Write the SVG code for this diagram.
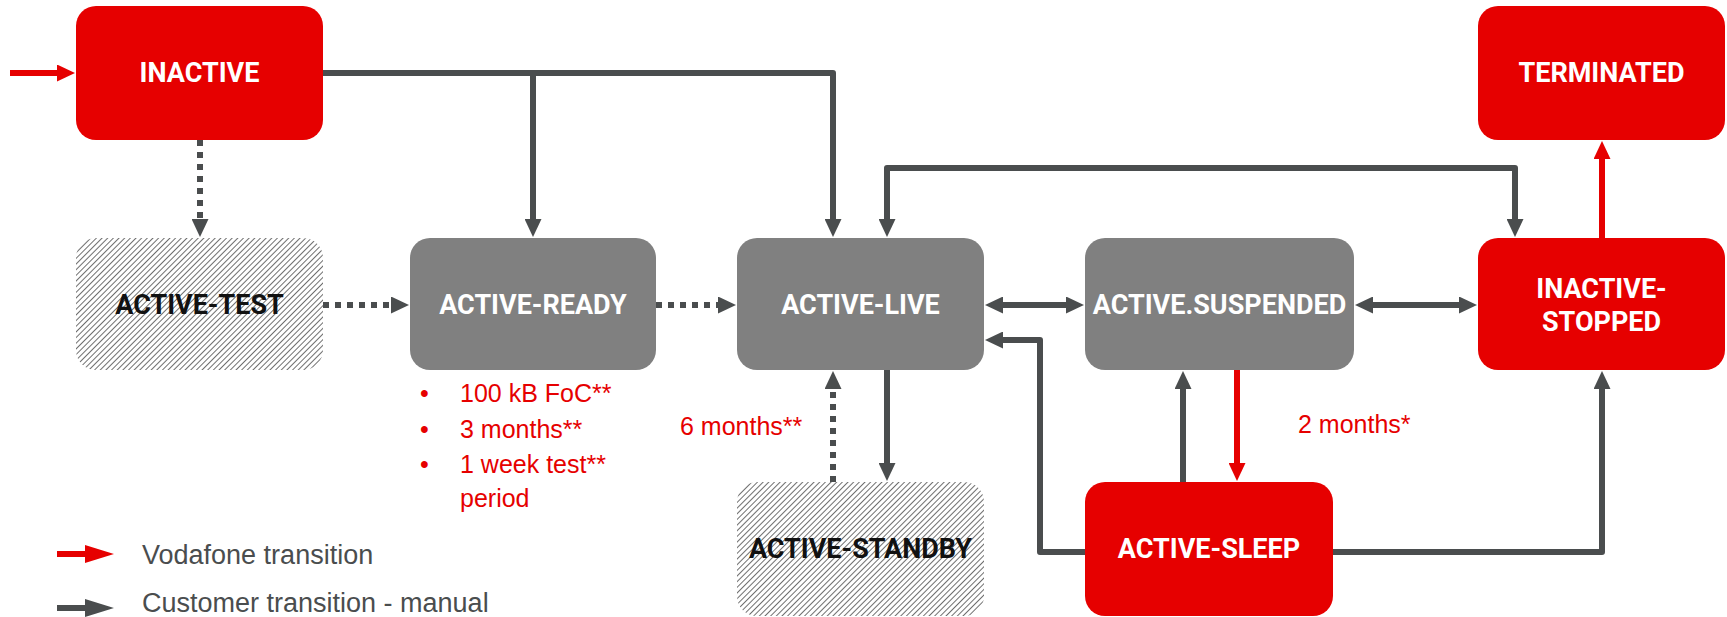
<svg xmlns="http://www.w3.org/2000/svg" width="1727" height="617" viewBox="0 0 1727 617">
<style>
.red{fill:#e60000}
.grey{fill:#808080}
.hatch{fill:url(#hatch)}
.lbl{font-family:Roboto,"Liberation Sans",sans-serif;font-weight:bold;font-size:27px;text-anchor:middle;fill:#ffffff}
.lbl.dark{fill:#111111}
.note{font-family:"Liberation Sans",Arial,sans-serif;font-size:25px;fill:#e60000}
.leg{font-family:"Liberation Sans",Arial,sans-serif;font-size:27px;fill:#4a4d4e}
.c{fill:none;stroke:#4a4d4e;stroke-width:6;stroke-linejoin:round}
.cr{fill:none;stroke:#e60000;stroke-width:6}
.dot{fill:none;stroke:#4a4d4e;stroke-width:6;stroke-dasharray:6 6}
</style>
<defs>
<pattern id="hatch" width="4" height="4" patternUnits="userSpaceOnUse" patternTransform="rotate(45)">
<rect width="4" height="4" fill="#ffffff"/>
<line x1="0" y1="0" x2="0" y2="4" stroke="#4a4a4a" stroke-width="1.6"/>
</pattern>
<marker id="ad" viewBox="0 0 18 17" refX="1" refY="8.5" markerWidth="18" markerHeight="17" markerUnits="userSpaceOnUse" orient="auto-start-reverse">
<path d="M0,0 L18,8.5 L0,17 z" fill="#4a4d4e"/>
</marker>
<marker id="ar" viewBox="0 0 18 17" refX="1" refY="8.5" markerWidth="18" markerHeight="17" markerUnits="userSpaceOnUse" orient="auto-start-reverse">
<path d="M0,0 L18,8.5 L0,17 z" fill="#e60000"/>
</marker>
<marker id="ld" viewBox="0 0 29 18" refX="1" refY="9" markerWidth="29" markerHeight="18" markerUnits="userSpaceOnUse" orient="auto">
<path d="M0,0 L29,9 L0,18 z" fill="#4a4d4e"/>
</marker>
<marker id="lr" viewBox="0 0 29 18" refX="1" refY="9" markerWidth="29" markerHeight="18" markerUnits="userSpaceOnUse" orient="auto">
<path d="M0,0 L29,9 L0,18 z" fill="#e60000"/>
</marker>
</defs>
<rect width="1727" height="617" fill="#ffffff"/>

<g id="connectors">
<path class="cr" d="M10,73 H58" marker-end="url(#ar)"/>
<path class="c" d="M323,73 H833 V220" marker-end="url(#ad)"/>
<path class="c" d="M533,73 V220" marker-end="url(#ad)"/>
<path class="dot" d="M200,140 V220" marker-end="url(#ad)"/>
<path class="dot" d="M323,305 H392" marker-end="url(#ad)"/>
<path class="dot" d="M656,305 H719" marker-end="url(#ad)"/>
<path class="c" d="M1002,305 H1067" marker-start="url(#ad)" marker-end="url(#ad)"/>
<path class="c" d="M1372,305 H1460" marker-start="url(#ad)" marker-end="url(#ad)"/>
<path class="c" d="M887,220 V168 H1515 V220" marker-start="url(#ad)" marker-end="url(#ad)"/>
<path class="c" d="M887,370 V464" marker-end="url(#ad)"/>
<path class="dot" d="M833,482 V388" marker-end="url(#ad)"/>
<path class="c" d="M1085,552 H1040 V340 H1002" marker-end="url(#ad)"/>
<path class="c" d="M1183,482 V388" marker-end="url(#ad)"/>
<path class="cr" d="M1237,370 V464" marker-end="url(#ar)"/>
<path class="c" d="M1333,552 H1602 V388" marker-end="url(#ad)"/>
<path class="cr" d="M1602,238 V158" marker-end="url(#ar)"/>
</g>

<g id="inactive">
<rect class="red" x="76" y="6" width="247" height="134" rx="20"/>
<text class="lbl" x="199.5" y="82">INACTIVE</text>
</g>
<g id="terminated">
<rect class="red" x="1478" y="6" width="247" height="134" rx="20"/>
<text class="lbl" x="1601.5" y="82">TERMINATED</text>
</g>
<g id="active-test">
<rect class="hatch" x="76" y="238" width="247" height="132" rx="20"/>
<text class="lbl dark" x="199.5" y="314">ACTIVE-TEST</text>
</g>
<g id="active-ready">
<rect class="grey" x="410" y="238" width="246" height="132" rx="20"/>
<text class="lbl" x="533" y="314">ACTIVE-READY</text>
</g>
<g id="active-live">
<rect class="grey" x="737" y="238" width="247" height="132" rx="20"/>
<text class="lbl" x="860.5" y="314">ACTIVE-LIVE</text>
</g>
<g id="active-suspended">
<rect class="grey" x="1085" y="238" width="269" height="132" rx="20"/>
<text class="lbl" x="1219.5" y="314">ACTIVE.SUSPENDED</text>
</g>
<g id="inactive-stopped">
<rect class="red" x="1478" y="238" width="247" height="132" rx="20"/>
<text class="lbl" x="1601.5" y="298">INACTIVE-</text>
<text class="lbl" x="1601.5" y="331">STOPPED</text>
</g>
<g id="active-standby">
<rect class="hatch" x="737" y="482" width="247" height="134" rx="20"/>
<text class="lbl dark" x="860.5" y="558">ACTIVE-STANDBY</text>
</g>
<g id="active-sleep">
<rect class="red" x="1085" y="482" width="248" height="134" rx="20"/>
<text class="lbl" x="1209" y="558">ACTIVE-SLEEP</text>
</g>

<g id="notes">
<text class="note" x="420" y="402">•</text>
<text class="note" x="460" y="402">100 kB FoC**</text>
<text class="note" x="420" y="438">•</text>
<text class="note" x="460" y="438">3 months**</text>
<text class="note" x="420" y="473">•</text>
<text class="note" x="460" y="473">1 week test**</text>
<text class="note" x="460" y="507">period</text>
<text class="note" x="680" y="435">6 months**</text>
<text class="note" x="1298" y="433">2 months*</text>
</g>

<g id="legend">
<path class="cr" d="M57,554 H86" marker-end="url(#lr)"/>
<text class="leg" x="142" y="564">Vodafone transition</text>
<path class="c" d="M57,608 H86" marker-end="url(#ld)"/>
<text class="leg" x="142" y="612">Customer transition - manual</text>
</g>
</svg>
